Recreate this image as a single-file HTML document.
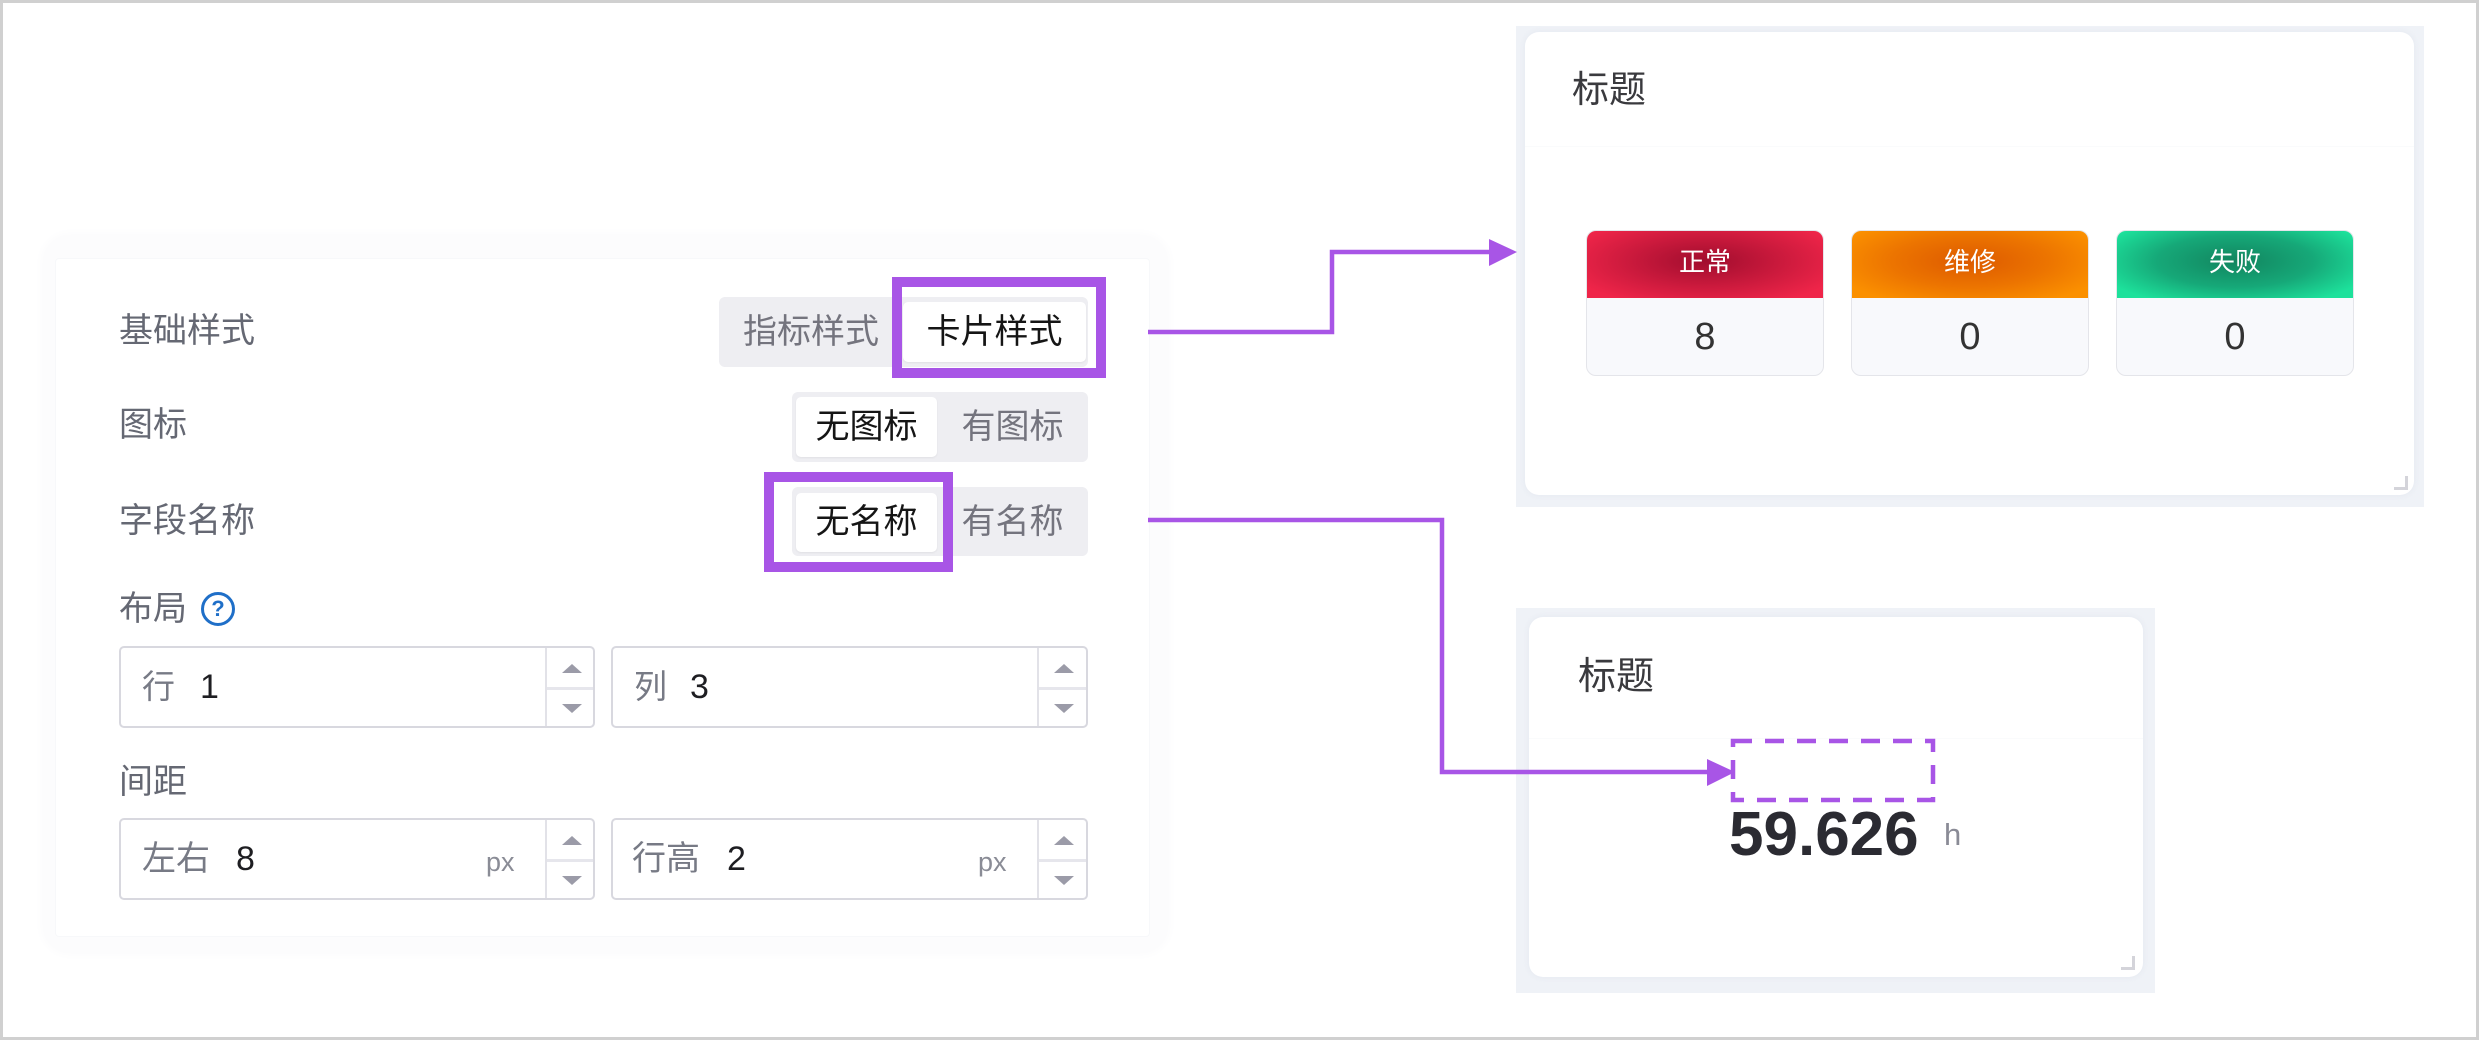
<!DOCTYPE html>
<html><head><meta charset="utf-8">
<style>
*{box-sizing:border-box}
body{margin:0;width:2479px;height:1040px;position:relative;overflow:hidden;background:#fff;font-family:"Liberation Sans","Noto Sans CJK SC",sans-serif}
.a{position:absolute}
.lbl{position:absolute;font-size:34px;color:#656873;height:40px;line-height:40px;white-space:nowrap}
.seg{position:absolute;background:#eeeef2;border-radius:6px}
.sel{position:absolute;background:#fff;border-radius:5px;box-shadow:0 1px 2px rgba(0,0,0,0.06)}
.st{position:absolute;font-size:34px;line-height:40px;height:40px;text-align:center;white-space:nowrap}
.inp{position:absolute;border:2px solid #d8d8df;border-radius:5px;background:#fff}
.spin-v{position:absolute;top:0;bottom:0;width:2px;background:#e2e2e8}
.spin-h{position:absolute;height:3px;background:#e6e6ec}
.tri-up{position:absolute;width:0;height:0;border-left:10px solid transparent;border-right:10px solid transparent;border-bottom:9px solid #9b9ba8}
.tri-dn{position:absolute;width:0;height:0;border-left:10px solid transparent;border-right:10px solid transparent;border-top:9px solid #9b9ba8}
.it{position:absolute;font-size:34px;line-height:40px;height:40px;white-space:nowrap}
.stat{position:absolute;width:238px;height:146px;border:1px solid #e4e5ea;border-radius:10px;overflow:hidden;background:#f8f9fc}
.stat .h{position:absolute;left:0;right:0;top:0;height:67px;color:#fff;font-size:26px;line-height:62px;text-align:center}
.stat .n{position:absolute;left:0;right:0;top:84px;height:44px;line-height:44px;text-align:center;font-size:38px;color:#333}
</style></head>
<body>
<!-- outer frame -->
<div class="a" style="left:0;top:0;width:2479px;height:1040px;border:3px solid #d0d0d0"></div>

<!-- left card -->
<div class="a" style="left:44px;top:236px;width:1123px;height:716px;background:#fcfcfd;border-radius:26px;box-shadow:0 0 8px 4px #fcfcfd"></div>
<div class="a" style="left:55px;top:258px;width:1095px;height:679px;background:#fff;border:1px solid #f7f8fa;border-radius:4px"></div>

<div class="lbl" style="left:119px;top:311px">基础样式</div>
<div class="lbl" style="left:119px;top:405px">图标</div>
<div class="lbl" style="left:119px;top:501px">字段名称</div>
<div class="lbl" style="left:119px;top:589px">布局</div>
<div class="lbl" style="left:119px;top:762px">间距</div>

<!-- help icon -->
<div class="a" style="left:201px;top:592px;width:34px;height:34px;border:3px solid #1f6fc8;border-radius:50%;color:#1f6fc8;font-size:22px;font-weight:bold;line-height:28px;text-align:center">?</div>

<!-- segment 1 -->
<div class="seg" style="left:719px;top:297px;width:369px;height:70px"></div>
<div class="sel" style="left:903px;top:302px;width:183px;height:60px"></div>
<div class="st" style="left:719px;top:312px;width:184px;color:#74747e">指标样式</div>
<div class="st" style="left:903px;top:312px;width:183px;color:#151515">卡片样式</div>

<!-- segment 2 -->
<div class="seg" style="left:792px;top:392px;width:296px;height:70px"></div>
<div class="sel" style="left:796px;top:397px;width:141px;height:60px"></div>
<div class="st" style="left:796px;top:407px;width:141px;color:#151515">无图标</div>
<div class="st" style="left:937px;top:407px;width:151px;color:#74747e">有图标</div>

<!-- segment 3 -->
<div class="seg" style="left:792px;top:487px;width:296px;height:69px"></div>
<div class="sel" style="left:796px;top:493px;width:141px;height:59px"></div>
<div class="st" style="left:796px;top:502px;width:141px;color:#151515">无名称</div>
<div class="st" style="left:937px;top:502px;width:151px;color:#74747e">有名称</div>

<!-- inputs row 1 -->
<div class="inp" style="left:119px;top:646px;width:476px;height:82px">
  <div class="spin-v" style="left:424px"></div>
  <div class="spin-h" style="left:426px;right:0;top:39px"></div>
  <div class="tri-up" style="left:441px;top:16px"></div>
  <div class="tri-dn" style="left:441px;top:56px"></div>
</div>
<div class="it" style="left:142px;top:667px;color:#777a85;font-size:33px">行</div>
<div class="it" style="left:200px;top:667px;color:#1e1e22">1</div>

<div class="inp" style="left:611px;top:646px;width:477px;height:82px">
  <div class="spin-v" style="left:424px"></div>
  <div class="spin-h" style="left:426px;right:0;top:39px"></div>
  <div class="tri-up" style="left:441px;top:16px"></div>
  <div class="tri-dn" style="left:441px;top:56px"></div>
</div>
<div class="it" style="left:634px;top:667px;color:#777a85;font-size:33px">列</div>
<div class="it" style="left:690px;top:667px;color:#1e1e22">3</div>

<!-- inputs row 2 -->
<div class="inp" style="left:119px;top:818px;width:476px;height:82px">
  <div class="spin-v" style="left:424px"></div>
  <div class="spin-h" style="left:426px;right:0;top:39px"></div>
  <div class="tri-up" style="left:441px;top:16px"></div>
  <div class="tri-dn" style="left:441px;top:56px"></div>
</div>
<div class="it" style="left:142px;top:839px;color:#777a85">左右</div>
<div class="it" style="left:236px;top:839px;color:#1e1e22">8</div>
<div class="it" style="left:486px;top:842px;color:#8a8c96;font-size:27px">px</div>

<div class="inp" style="left:611px;top:818px;width:477px;height:82px">
  <div class="spin-v" style="left:424px"></div>
  <div class="spin-h" style="left:426px;right:0;top:39px"></div>
  <div class="tri-up" style="left:441px;top:16px"></div>
  <div class="tri-dn" style="left:441px;top:56px"></div>
</div>
<div class="it" style="left:632px;top:839px;color:#777a85">行高</div>
<div class="it" style="left:727px;top:839px;color:#1e1e22">2</div>
<div class="it" style="left:978px;top:842px;color:#8a8c96;font-size:27px">px</div>

<!-- top right card -->
<div class="a" style="left:1516px;top:26px;width:908px;height:481px;background:#eff2f7"></div>
<div class="a" style="left:1525px;top:32px;width:889px;height:463px;background:#fff;border-radius:14px;box-shadow:0 0 6px rgba(220,225,235,0.6)"></div>
<div class="a" style="left:1525px;top:146px;width:889px;height:1px;background:#fafbfc"></div>
<div class="a" style="left:1572px;top:68px;font-size:37px;line-height:44px;color:#3a3a3e">标题</div>

<div class="stat" style="left:1586px;top:230px">
  <div class="h" style="background:radial-gradient(ellipse 60% 70% at 50% 45%,#a10d2e 0%,#cc1a3d 55%,#ef2549 100%)">正常</div>
  <div class="n">8</div>
</div>
<div class="stat" style="left:1851px;top:230px">
  <div class="h" style="background:radial-gradient(ellipse 60% 70% at 50% 45%,#dd5a00 0%,#ec7400 55%,#fb9000 100%)">维修</div>
  <div class="n">0</div>
</div>
<div class="stat" style="left:2116px;top:230px">
  <div class="h" style="background:radial-gradient(ellipse 60% 70% at 50% 45%,#12855f 0%,#16a878 55%,#1de19b 100%)">失败</div>
  <div class="n">0</div>
</div>
<div class="a" style="left:2394px;top:476px;width:14px;height:14px;border-right:3px solid #d4d4da;border-bottom:3px solid #d4d4da"></div>

<!-- bottom right card -->
<div class="a" style="left:1516px;top:608px;width:639px;height:385px;background:#eff2f7"></div>
<div class="a" style="left:1529px;top:617px;width:614px;height:360px;background:#fff;border-radius:14px;box-shadow:0 0 6px rgba(220,225,235,0.6)"></div>
<div class="a" style="left:1529px;top:738px;width:614px;height:1px;background:#fafbfc"></div>
<div class="a" style="left:1578px;top:655px;font-size:38px;line-height:44px;color:#3a3a3e">标题</div>
<div class="a" style="left:1729px;top:800px;font-size:62px;font-weight:bold;line-height:70px;color:#2b2b32;white-space:nowrap">59.626</div>
<div class="a" style="left:1944px;top:815px;font-size:31px;line-height:40px;color:#8a8b96">h</div>
<div class="a" style="left:2121px;top:956px;width:14px;height:14px;border-right:3px solid #d4d4da;border-bottom:3px solid #d4d4da"></div>

<!-- overlay connectors -->
<svg class="a" style="left:0;top:0" width="2479" height="1040" viewBox="0 0 2479 1040">
  <g fill="none" stroke="#a855e6">
    <rect x="897" y="282" width="204" height="91" stroke-width="10"/>
    <rect x="769" y="477" width="179" height="90" stroke-width="10"/>
    <polyline points="1148,332 1332,332 1332,252 1492,252" stroke-width="4.5"/>
    <polyline points="1148,520 1442,520 1442,772 1710,772" stroke-width="4.5"/>
    <rect x="1733" y="741" width="200" height="59" stroke-width="4.5" stroke-dasharray="19 13"/>
  </g>
  <g fill="#a855e6">
    <polygon points="1489,239 1517,252 1489,266"/>
    <polygon points="1707,759 1735,772 1707,786"/>
  </g>
</svg>
</body></html>
